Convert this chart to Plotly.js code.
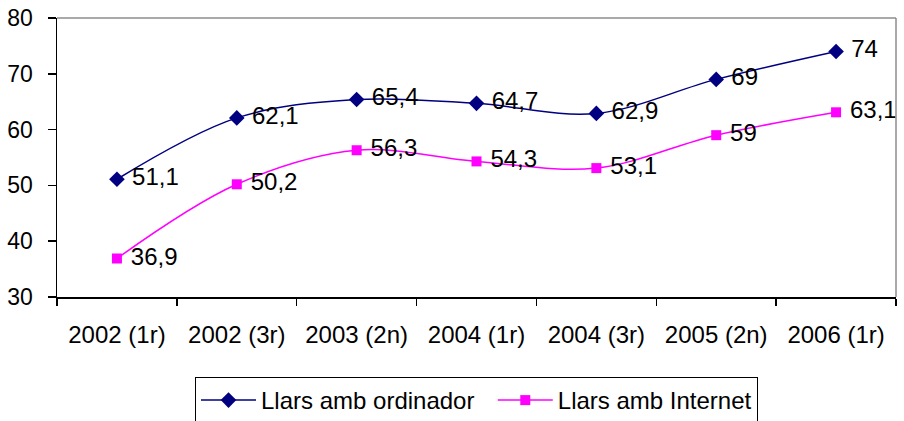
<!DOCTYPE html>
<html>
<head>
<meta charset="utf-8">
<script src="https://cdn.plot.ly/plotly-3.0.1.min.js"></script>
<style>html,body{margin:0;padding:0;background:#fff;}#chart{width:904px;height:421px;}</style>
</head>
<body>
<div id="chart"></div>
<script>
const categories = ["2002 (1r)", "2002 (3r)", "2003 (2n)", "2004 (1r)", "2004 (3r)", "2005 (2n)", "2006 (1r)"];
const ordinador = [51.1, 62.1, 65.4, 64.7, 62.9, 69, 74];
const internet = [36.9, 50.2, 56.3, 54.3, 53.1, 59, 63.1];
const seriesNames = ["Llars amb ordinador", "Llars amb Internet"];
const yTicks = [30, 40, 50, 60, 70, 80];

const FONT = "'Liberation Sans', Arial, sans-serif";
const fmt = v => '\u00a0' + String(v).replace('.', ',');

const traces = [
  {
    x: categories, y: ordinador, name: seriesNames[0] + '\u00a0\u00a0',
    type: 'scatter', mode: 'lines+markers+text',
    line: {color: '#000080', width: 1.5, shape: 'spline', smoothing: 1},
    marker: {symbol: 'diamond', size: 12, color: '#000080'},
    text: ordinador.map(fmt), textposition: 'middle right',
    textfont: {family: FONT, size: 24, color: '#000'},
    cliponaxis: false
  },
  {
    x: categories, y: internet, name: seriesNames[1],
    type: 'scatter', mode: 'lines+markers+text',
    line: {color: '#FF00FF', width: 1.5, shape: 'spline', smoothing: 1},
    marker: {symbol: 'square', size: 10, color: '#FF00FF'},
    text: internet.map(fmt), textposition: 'middle right',
    textfont: {family: FONT, size: 24, color: '#000'},
    cliponaxis: false
  }
];

const layout = {
  width: 904, height: 421,
  margin: {l: 57, r: 8, t: 18, b: 124},
  paper_bgcolor: '#fff', plot_bgcolor: '#fff',
  font: {family: FONT, size: 24, color: '#000'},
  showlegend: true,
  legend: {
    orientation: 'h', x: 0.5, xanchor: 'center',
    yref: 'container', y: 0.1045, yanchor: 'top',
    bordercolor: '#000', borderwidth: 1, bgcolor: '#fff',
    itemwidth: 55,
    font: {family: FONT, size: 24}
  },
  xaxis: {
    type: 'category', range: [-0.5, 6.5], tickson: 'boundaries',
    ticks: 'outside', ticklen: 7, tickcolor: '#000', tickwidth: 1.5,
    showline: true, linecolor: '#000', linewidth: 1.5,
    showgrid: false, zeroline: false, fixedrange: true,
    ticklabelstandoff: 16,
    tickfont: {family: FONT, size: 24}
  },
  yaxis: {
    range: [30, 80], tickvals: yTicks, ticktext: yTicks.map(String),
    ticks: 'outside', ticklen: 8, tickcolor: '#000', tickwidth: 1.5,
    showline: true, linecolor: '#000', linewidth: 1.5,
    showgrid: false, zeroline: false, fixedrange: true,
    ticklabelstandoff: 10,
    tickfont: {family: FONT, size: 23}
  },
  shapes: [
    {type: 'line', xref: 'paper', yref: 'paper', x0: 0, x1: 1, y0: 1, y1: 1, line: {color: '#8c8c8c', width: 1.5}},
    {type: 'line', xref: 'paper', yref: 'paper', x0: 1, x1: 1, y0: 0, y1: 1, line: {color: '#8c8c8c', width: 1.5}}
  ]
};

Plotly.newPlot('chart', traces, layout, {displayModeBar: false, staticPlot: true});
</script>
</body>
</html>
